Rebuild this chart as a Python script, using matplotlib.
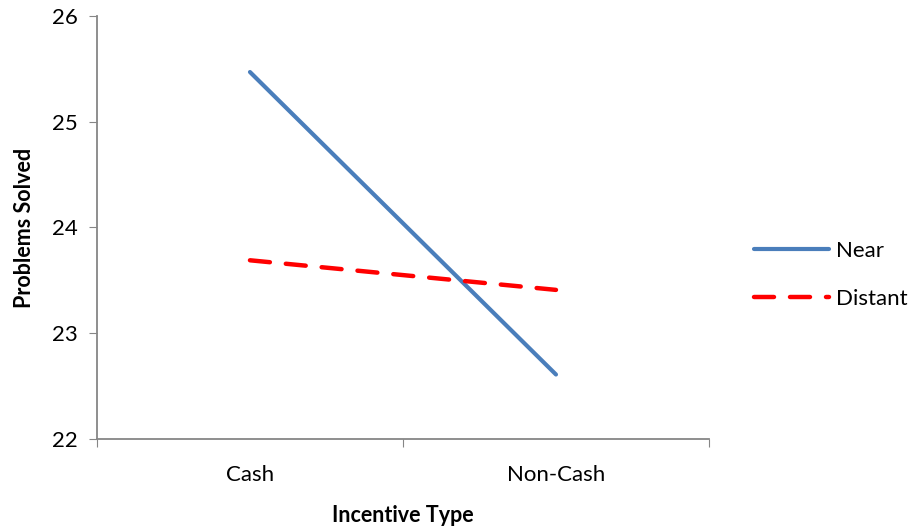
import matplotlib.pyplot as plt

plt.rcParams['font.family'] = ['Lato', 'DejaVu Sans']

categories = ['Cash', 'Non-Cash']
near = [25.47, 22.61]
distant = [23.69, 23.41]

fig = plt.figure(figsize=(9.08, 5.29), dpi=100)
ax = fig.add_axes([0.1068, 0.1701, 0.674, 0.7997])

x = [0.5, 1.5]
ax.plot(x, near, color='#4a7ebb', lw=3, solid_capstyle='round', label='Near')
ax.plot(x, distant, color='#ff0000', lw=3.2, dashes=(4.5, 3.6),
        dash_capstyle='round', label='Distant')

ax.set_xlim(0, 2)
ax.set_ylim(22, 26)
ax.set_yticks([22, 23, 24, 25, 26])
ax.set_xticks([0, 1, 2])
ax.set_xticklabels([])
ax.set_xticks(x, minor=True)
ax.set_xticklabels(categories, minor=True)
ax.tick_params(axis='x', which='minor', length=0, pad=19, labelsize=16)
ax.tick_params(axis='x', which='major', length=6, color='#868686', direction='out')
ax.tick_params(axis='y', length=6, color='#868686', direction='out', labelsize=16, pad=8)

for s in ['top', 'right']:
    ax.spines[s].set_visible(False)
for s in ['left', 'bottom']:
    ax.spines[s].set_color('#868686')
    ax.spines[s].set_linewidth(1.3)

ax.set_xlabel('Incentive Type', fontsize=15.5, fontweight='bold', labelpad=14)
ax.set_ylabel('Problems Solved', fontsize=15.5, fontweight='bold', labelpad=12)

fig.legend(loc='center left', bbox_to_anchor=(0.808, 0.48), frameon=False,
           fontsize=16, handlelength=3.4, handletextpad=0.3, labelspacing=1.25)

fig.savefig('out.png', dpi=100)
